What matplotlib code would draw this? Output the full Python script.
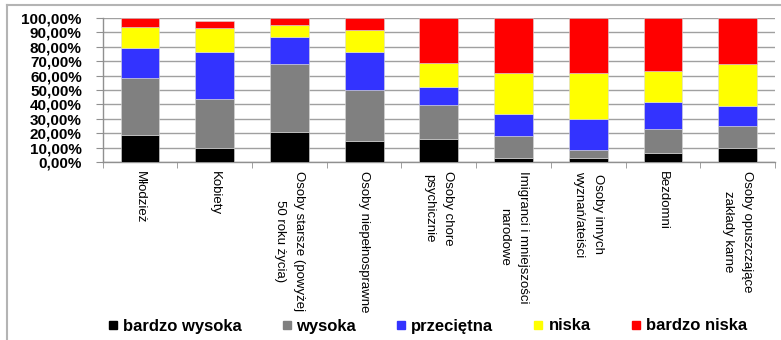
import numpy as np
import matplotlib
matplotlib.use("Agg")
import matplotlib.pyplot as plt
from matplotlib.lines import Line2D
from matplotlib.ticker import FixedLocator

plt.rcParams['font.family'] = ['Liberation Sans', 'DejaVu Sans']

categories = ["Młodzież", "Kobiety", "Osoby starsze (powyżej\n50 roku życia)",
              "Osoby niepełnosprawne", "Osoby chore\npsychicznie",
              "Imigranci i mniejszości\nnarodowe", "Osoby innych\nwyznań/ateiści",
              "Bezdomni", "Osoby opuszczające\nzakłady karne"]

bardzo_wysoka = [19.1, 9.7, 20.7, 14.9, 16.3, 3.2, 3.0, 6.2, 9.9]
wysoka = [38.9, 34.0, 47.2, 35.1, 23.1, 15.0, 5.3, 17.0, 15.4]
przecietna = [20.8, 32.3, 18.9, 26.4, 12.6, 15.0, 21.6, 18.3, 13.4]
niska = [14.7, 17.0, 8.3, 15.2, 16.8, 28.3, 31.6, 21.6, 29.0]
bardzo_niska = [6.5, 4.9, 4.9, 8.4, 31.2, 38.5, 38.5, 36.9, 32.3]

series = [("bardzo wysoka", bardzo_wysoka, "#000000"),
          ("wysoka", wysoka, "#808080"),
          ("przeciętna", przecietna, "#3333FF"),
          ("niska", niska, "#FFFF00"),
          ("bardzo niska", bardzo_niska, "#FF0000")]

W, H = 781, 340
fig = plt.figure(figsize=(W / 100, H / 100), dpi=100)
ax = fig.add_axes([102.7 / W, 1 - 162.3 / H, (775 - 102.7) / W, (162.3 - 17.7) / H])

x = np.arange(len(categories))
bottom = np.zeros(len(categories))
handles = []
for name, vals, col in series:
    vals = np.array(vals)
    ax.bar(x, vals, 0.52, bottom=bottom, color=col, edgecolor="#d8d8d8",
           linewidth=0.4, zorder=3, label=name)
    bottom += vals
    handles.append(Line2D([], [], marker="s", linestyle="none", markersize=6.3,
                          markerfacecolor=col, markeredgecolor=col, label=name))

ax.set_xlim(-0.5, len(categories) - 0.5)
ax.set_ylim(0, 100)
ax.set_yticks(np.arange(0, 101, 10))
ax.set_yticklabels([f"{v},00%" for v in range(0, 101, 10)])
ax.grid(axis="y", color="#a0a0a0", linewidth=1.0, zorder=0)

ax.set_xticks(x)
ax.set_xticklabels(categories, rotation=270, ha="center", va="top",
                   multialignment="center", fontsize=9.5, linespacing=1.75)
ax.xaxis.set_minor_locator(FixedLocator(np.arange(-0.5, len(categories), 1)))
ax.tick_params(axis="x", which="major", length=0, pad=6)
ax.tick_params(axis="x", which="minor", length=4, color="#909090", direction="out")
ax.tick_params(axis="y", length=5, color="#909090", pad=10, labelsize=11)
for lbl in ax.get_yticklabels():
    lbl.set_fontweight("bold")

for side in ("top", "right"):
    ax.spines[side].set_visible(False)
for side in ("left", "bottom"):
    ax.spines[side].set_color("#909090")
    ax.spines[side].set_linewidth(1.0)

fig.legend(handles=handles, loc="center", bbox_to_anchor=(0.547, 1 - 326 / H),
           ncol=5, frameon=False, handlelength=0.6, handletextpad=0.3,
           columnspacing=2.4, borderpad=0, prop={"weight": "bold", "size": 12})

# outer chart frame
fig.add_artist(Line2D([7 / W, 7 / W], [0, 1 - 5 / H], transform=fig.transFigure,
                      color="#b4b4b4", linewidth=1.5))
fig.add_artist(Line2D([7 / W, 1], [1 - 5 / H, 1 - 5 / H], transform=fig.transFigure,
                      color="#b4b4b4", linewidth=1.5))

fig.savefig("out.png", dpi=100)
